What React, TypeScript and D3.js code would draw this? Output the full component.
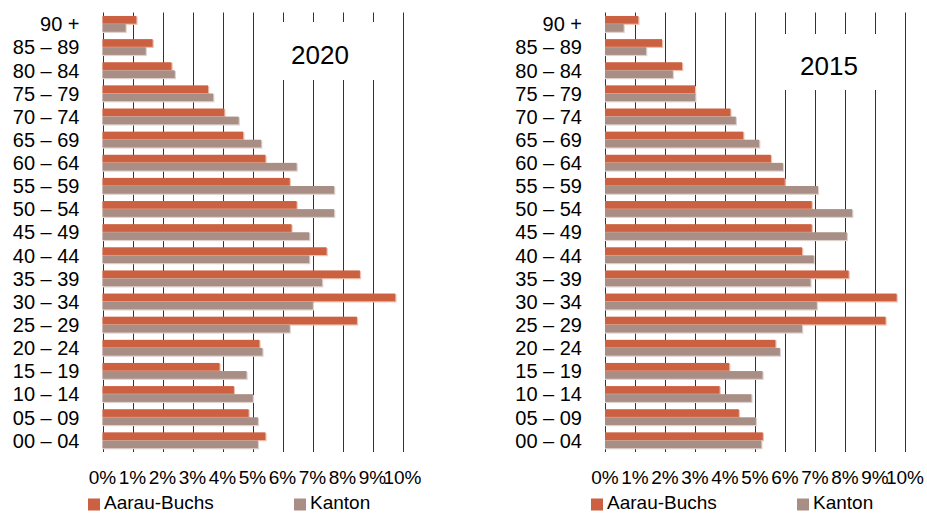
import React from "react";
import * as d3 from "d3";

const categories = [
  "90 +", "85 – 89", "80 – 84", "75 – 79", "70 – 74", "65 – 69", "60 – 64",
  "55 – 59", "50 – 54", "45 – 49", "40 – 44", "35 – 39", "30 – 34", "25 – 29",
  "20 – 24", "15 – 19", "10 – 14", "05 – 09", "00 – 04",
];
const aarau2020 = [1.13, 1.67, 2.3, 3.52, 4.06, 4.69, 5.43, 6.24, 6.47, 6.3, 7.47, 8.58, 9.76, 8.48, 5.23, 3.9, 4.38, 4.87, 5.43];
const kanton2020 = [0.77, 1.44, 2.41, 3.69, 4.54, 5.29, 6.47, 7.72, 7.72, 6.89, 6.89, 7.32, 7.01, 6.24, 5.33, 4.8, 5.01, 5.18, 5.18];
const aarau2015 = [1.11, 1.9, 2.57, 3.0, 4.18, 4.61, 5.53, 5.99, 6.89, 6.89, 6.57, 8.12, 9.72, 9.35, 5.68, 4.14, 3.82, 4.46, 5.26];
const kanton2015 = [0.62, 1.37, 2.26, 3.01, 4.36, 5.14, 5.93, 7.1, 8.24, 8.06, 6.96, 6.85, 7.06, 6.57, 5.83, 5.25, 4.88, 5.03, 5.21];
const ticks = [0, 1, 2, 3, 4, 5, 6, 7, 8, 9, 10];
const seriesNames = ["Aarau-Buchs", "Kanton"];

const COLORS = ["#cc6141", "#a98e85"];
const LIGHT = ["#efbfae", "#ddd2ce"];
const FONT = "'Liberation Sans', Arial, sans-serif";

type PanelProps = {
  x0: number;
  x1: number;
  a: number[];
  k: number[];
  title: string;
  box: { x: number; y: number; w: number; h: number };
  titleX: number;
  titleY: number;
  legendX: number;
};

function Panel({ x0, x1, a, k, title, box, titleX, titleY, legendX }: PanelProps) {
  const x = d3.scaleLinear().domain([0, 10]).range([x0, x1]);
  const y = d3.scaleBand<string>().domain(categories).range([12.5, 452]).paddingInner(0.3).paddingOuter(0.15);
  const sub = d3.scaleBand<number>().domain([0, 1]).range([0, y.bandwidth()]);
  const series = [a, k];
  return (
    <g>
      {ticks.map((t) => (
        <line key={"g" + t} x1={Math.round(x(t)) + 0.5} x2={Math.round(x(t)) + 0.5} y1={12.5} y2={452} stroke="#333" strokeWidth={1} />
      ))}
      <rect x={box.x} y={box.y} width={box.w} height={box.h} fill="#fff" />
      <text x={titleX} y={titleY} textAnchor="middle" fontSize={26} fontFamily={FONT} fill="#000">{title}</text>
      {categories.map((c, i) => (
        <g key={c}>
          {series.map((s, j) => {
            const by = (y(c) as number) + (sub(j) as number);
            const w = x(s[i]) - x(0);
            return (
              <g key={j}>
                <rect x={x(0)} y={by + 0.8} width={w + 1.2} height={sub.bandwidth()} fill={LIGHT[j]} />
                <rect x={x(0)} y={by} width={w} height={sub.bandwidth() - 0.4} fill={COLORS[j]} />
              </g>
            );
          })}
          <text x={x0 - 23} y={(y(c) as number) + y.bandwidth() / 2} dy="0.36em" textAnchor="end" fontSize={20} fontFamily={FONT} fill="#000">{c}</text>
        </g>
      ))}
      {ticks.map((t) => (
        <text key={"t" + t} x={x(t)} y={484} textAnchor="middle" fontSize={19} fontFamily={FONT} fill="#000">{t + "%"}</text>
      ))}
      {seriesNames.map((n, j) => (
        <g key={n}>
          <rect x={legendX + j * 206} y={498.5} width={12} height={12} fill={COLORS[j]} />
          <text x={legendX + j * 206 + 16} y={509} fontSize={19} fontFamily={FONT} fill="#000">{n}</text>
        </g>
      ))}
    </g>
  );
}

export default function App() {
  return (
    <svg width={927} height={513} style={{ position: "absolute", left: 0, top: 0, display: "block", background: "#fff" }}>
      <rect x={0} y={0} width={927} height={513} fill="#fff" />
      <Panel x0={102.5} x1={402.5} a={aarau2020} k={kanton2020} title="2020" box={{ x: 268, y: 22, w: 127, h: 58 }} titleX={320} titleY={63.5} legendX={88} />
      <Panel x0={605} x1={905} a={aarau2015} k={kanton2015} title="2015" box={{ x: 770, y: 34, w: 128, h: 56 }} titleX={829} titleY={74.5} legendX={591} />
    </svg>
  );
}
